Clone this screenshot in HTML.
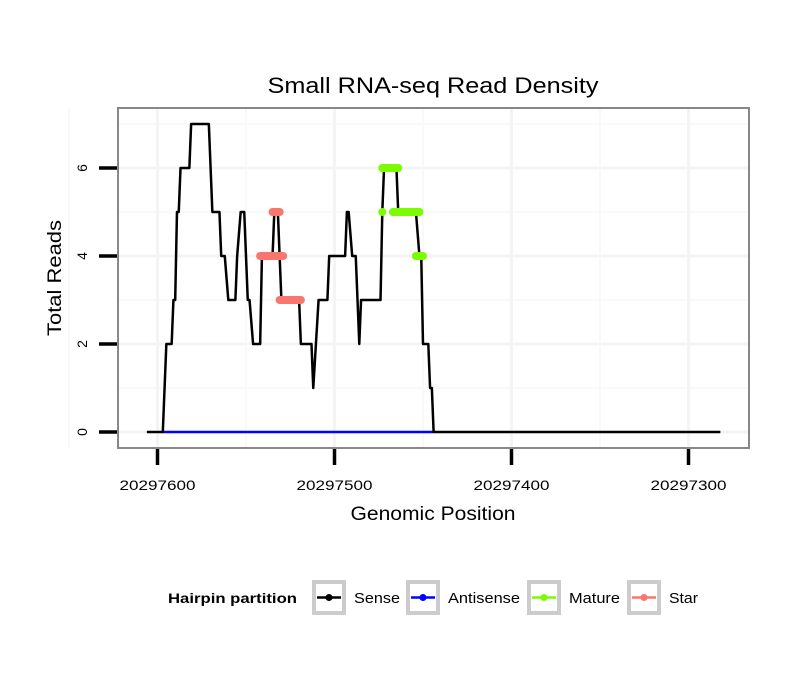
<!DOCTYPE html>
<html><head><meta charset="utf-8"><style>
body{margin:0;background:#fff;}
svg text{font-family:"Liberation Sans",sans-serif;}
</style></head><body>
<svg id="chart" width="810" height="690" xmlns="http://www.w3.org/2000/svg">
<rect width="810" height="690" fill="#fff"/>
<text x="433" y="93" text-anchor="middle" font-size="22" textLength="331" lengthAdjust="spacingAndGlyphs">Small RNA-seq Read Density</text>
<rect x="118" y="108" width="631" height="340" fill="#fff"/>
<g id="grid"></g>
<g id="marks"></g>
<rect x="118" y="108" width="631" height="340" fill="none" stroke="#888" stroke-width="2"/>
<g id="axes"></g>
<text x="433" y="520" text-anchor="middle" font-size="19" textLength="165" lengthAdjust="spacingAndGlyphs">Genomic Position</text>
<text transform="translate(61,278) rotate(-90)" text-anchor="middle" font-size="19" textLength="116" lengthAdjust="spacingAndGlyphs">Total Reads</text>
<g id="legend">
<text x="168" y="603" font-size="14" font-weight="bold" textLength="129" lengthAdjust="spacingAndGlyphs">Hairpin partition</text>
</g>
</svg>
<script>
const xTicks=[20297600,20297500,20297400,20297300];
const yTicks=[0,2,4,6];
const sensePos=[20297606,20297597,20297595,20297592,20297591,20297590,20297589,20297588,20297587,20297582,20297581,20297571,20297570,20297569,20297565,20297564,20297562,20297560,20297556,20297555,20297553,20297551,20297550,20297549,20297548,20297546,20297542,20297541,20297535,20297534,20297532,20297531,20297530,20297520,20297519,20297513,20297512,20297509,20297504,20297503,20297494,20297493,20297492,20297490,20297488,20297486,20297485,20297474,20297473,20297472,20297465,20297464,20297454,20297452,20297451,20297450,20297447,20297446,20297445,20297444,20297282];
const senseVal=[0,0,2,2,3,3,5,5,6,6,7,7,6,5,5,4,4,3,3,4,5,5,4,3,3,2,2,4,4,5,5,4,3,3,2,2,1,3,3,4,4,5,5,4,4,2,3,3,5,6,6,5,5,4,4,2,2,1,1,0,0];
const antisensePos=[20297597,20297444];
const antisenseVal=[0,0];
// marker runs: start, end, value
const starStart=[20297542,20297535,20297531];
const starEnd=[20297529,20297531,20297519];
const starVal=[4,5,3];
const matureStart=[20297473,20297473,20297467,20297454];
const matureEnd=[20297473,20297464,20297452,20297450];
const matureVal=[5,6,5,4];
const xTickWidth=76;

const NS="http://www.w3.org/2000/svg";
const X=v=>157.5+(20297600-v)*1.77;
const Y=v=>432-v*44;
function mk(p,t,a){const e=document.createElementNS(NS,t);for(const k in a)e.setAttribute(k,a[k]);p.appendChild(e);return e;}
const grid=document.getElementById('grid'),marks=document.getElementById('marks'),axes=document.getElementById('axes'),legend=document.getElementById('legend');
[1,3,5,7].forEach(v=>{const l=mk(grid,'line',{x1:118,x2:749,y1:Y(v),y2:Y(v),stroke:'#f7f7f7','stroke-width':1.5});});
yTicks.forEach(v=>{const l=mk(grid,'line',{x1:118,x2:749,y1:Y(v),y2:Y(v),stroke:'#f4f4f4','stroke-width':3});});
[20297650,20297550,20297450,20297350].forEach(v=>{const l=mk(grid,'line',{x1:X(v),x2:X(v),y1:108,y2:448,stroke:'#f7f7f7','stroke-width':1.5});});
xTicks.forEach(v=>{const l=mk(grid,'line',{x1:X(v),x2:X(v),y1:108,y2:448,stroke:'#f4f4f4','stroke-width':3});});
const ap=mk(marks,'polyline',{points:antisensePos.map((p,i)=>X(p)+','+Y(antisenseVal[i])).join(' '),fill:'none',stroke:'#0000ff','stroke-width':2.5});

const sp=mk(marks,'polyline',{points:sensePos.map((p,i)=>X(p)+','+Y(senseVal[i])).join(' '),fill:'none',stroke:'#000','stroke-width':2.5,'stroke-linejoin':'round'});

function runs(s,e,v,col,name){s.forEach((st,i)=>{const l=mk(marks,'line',{x1:X(st),x2:X(e[i]),y1:Y(v[i]),y2:Y(v[i]),stroke:col,'stroke-width':8,'stroke-linecap':'round'});});}
runs(starStart,starEnd,starVal,'#f8766d','star-points');
runs(matureStart,matureEnd,matureVal,'#7cfc00','mature-points');
xTicks.forEach(v=>{const t=mk(axes,'line',{x1:X(v),x2:X(v),y1:449,y2:465,stroke:'#000','stroke-width':3.5});
const tx=mk(axes,'text',{x:X(v),y:490,'text-anchor':'middle','font-size':14,textLength:xTickWidth,lengthAdjust:'spacingAndGlyphs'});tx.textContent=v;});
yTicks.forEach(v=>{const t=mk(axes,'line',{x1:99,x2:117,y1:Y(v),y2:Y(v),stroke:'#000','stroke-width':3.5});
const tx=mk(axes,'text',{transform:`translate(87,${Y(v)}) rotate(-90)`,'text-anchor':'middle','font-size':14});tx.textContent=v;});
const legNames=['Sense','Antisense','Mature','Star'];
const legCols=['#000','#0000ff','#7cfc00','#f8766d'];
const legX=[312,406,527,627];
const legW=[46,72,51,29];
legNames.forEach((n,i)=>{const x=legX[i];
const b=mk(legend,'rect',{x:x+2,y:582,width:30,height:31,fill:'#fff',stroke:'#ccc','stroke-width':4});
const l=mk(legend,'line',{x1:x+5,x2:x+29,y1:597.5,y2:597.5,stroke:legCols[i],'stroke-width':2.5});
const c=mk(legend,'circle',{cx:x+17,cy:597.5,r:3.5,fill:legCols[i]});
const t=mk(legend,'text',{x:x+42,y:603,'font-size':15,textLength:legW[i],lengthAdjust:'spacingAndGlyphs'});t.textContent=n;});
</script>
</body></html>
